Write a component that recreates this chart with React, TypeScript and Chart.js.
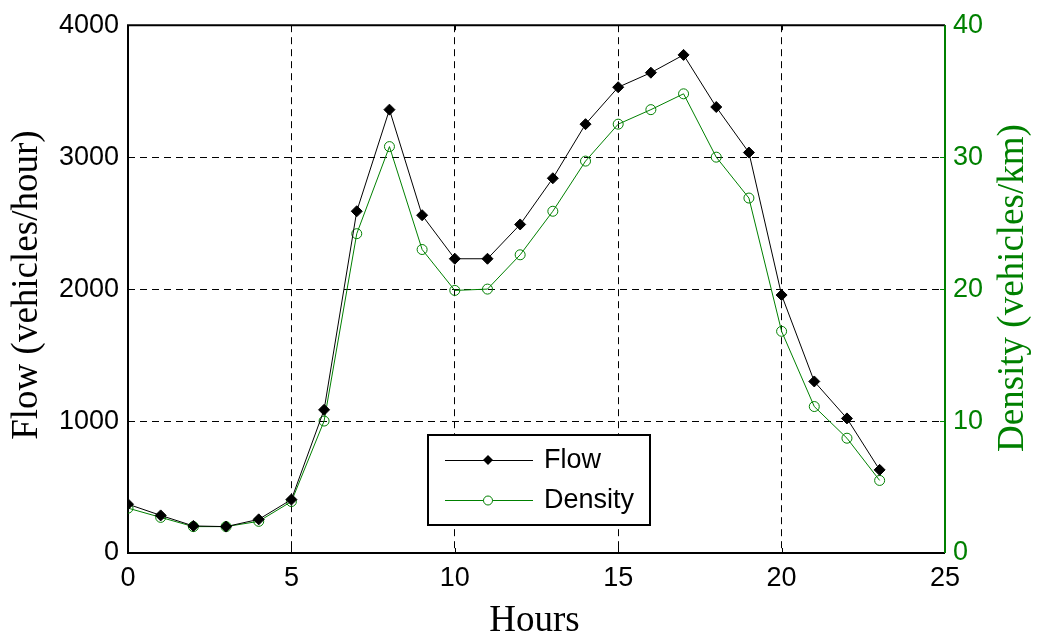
import React, { useEffect, useRef } from "react";
import { Chart, registerables } from "chart.js";

Chart.register(...registerables);

// Hourly traffic measurements
const HOURS = [0, 1, 2, 3, 4, 5, 6, 7, 8, 9, 10, 11, 12, 13, 14, 15, 16, 17, 18, 19, 20, 21, 22, 23];
const FLOW = [370, 285, 205, 200, 255, 405, 1085, 2590, 3360, 2560, 2230, 2230, 2490, 2840, 3250, 3530, 3640, 3775, 3380, 3035, 1955, 1300, 1020, 630];
const DENSITY = [3.4, 2.7, 2.0, 2.0, 2.4, 3.9, 10.0, 24.2, 30.8, 23.0, 19.9, 20.0, 22.6, 25.9, 29.7, 32.5, 33.6, 34.8, 30.0, 26.9, 16.8, 11.1, 8.7, 5.5];

const X_RANGE = [0, 25];
const FLOW_RANGE = [0, 4000];
const DENSITY_RANGE = [0, 40];

const GREEN = "rgb(0,128,0)";
const TICK_FONT = { family: "'Liberation Sans', Arial, sans-serif", size: 27 };
const TITLE_FONT = "37px 'Liberation Serif', 'Times New Roman', serif";
const LEGEND_FONT = "27px 'Liberation Sans', Arial, sans-serif";

const W = 1037;
const H = 639;

const plainTick = (v: any) => String(v);

const decorations = {
  id: "decorations",
  beforeDatasetsDraw(chart: any) {
    const { ctx, chartArea: a, scales } = chart;
    ctx.save();
    // inward tick marks
    ctx.lineWidth = 1;
    ctx.strokeStyle = "#000";
    ctx.beginPath();
    scales.x.ticks.forEach((t: any) => {
      const px = Math.round(scales.x.getPixelForValue(t.value)) + 0.5;
      ctx.moveTo(px, a.bottom);
      ctx.lineTo(px, a.bottom - 5);
      ctx.moveTo(px, a.top);
      ctx.lineTo(px, a.top + 5);
    });
    scales.y.ticks.forEach((t: any) => {
      const py = Math.round(scales.y.getPixelForValue(t.value)) + 0.5;
      ctx.moveTo(a.left, py);
      ctx.lineTo(a.left + 5, py);
    });
    ctx.stroke();
    ctx.strokeStyle = GREEN;
    ctx.beginPath();
    scales.y1.ticks.forEach((t: any) => {
      const py = Math.round(scales.y1.getPixelForValue(t.value)) + 0.5;
      ctx.moveTo(a.right, py);
      ctx.lineTo(a.right - 5, py);
    });
    ctx.stroke();

    // axes frame
    ctx.lineWidth = 2;
    ctx.strokeStyle = "#000";
    ctx.beginPath();
    ctx.moveTo(a.right, a.top);
    ctx.lineTo(a.left, a.top);
    ctx.lineTo(a.left, a.bottom);
    ctx.lineTo(a.right, a.bottom);
    ctx.stroke();
    ctx.strokeStyle = GREEN;
    ctx.beginPath();
    ctx.moveTo(a.right, a.top);
    ctx.lineTo(a.right, a.bottom);
    ctx.stroke();
    ctx.restore();
  },
  afterDraw(chart: any) {
    const { ctx, chartArea: a } = chart;
    const cy = (a.top + a.bottom) / 2;
    const cx = (a.left + a.right) / 2;
    ctx.save();
    ctx.font = TITLE_FONT;
    ctx.textAlign = "center";
    ctx.textBaseline = "middle";

    ctx.fillStyle = "#000";
    ctx.save();
    ctx.translate(27, cy - 4);
    ctx.rotate(-Math.PI / 2);
    ctx.fillText("Flow (vehicles/hour)", 0, 0);
    ctx.restore();

    ctx.fillStyle = GREEN;
    ctx.save();
    ctx.translate(1013, cy - 1);
    ctx.rotate(-Math.PI / 2);
    ctx.fillText("Density (vehicles/km)", 0, 0);
    ctx.restore();

    ctx.fillStyle = "#000";
    ctx.fillText("Hours", cx - 2, 621);

    // legend box
    const lx = 428, ly = 435, lw = 222, lh = 90;
    ctx.fillStyle = "#fff";
    ctx.fillRect(lx, ly, lw, lh);
    ctx.lineWidth = 2;
    ctx.strokeStyle = "#000";
    ctx.strokeRect(lx, ly, lw, lh);

    const rows = [
      { label: "Flow", color: "#000", y: 460, marker: "diamond" },
      { label: "Density", color: GREEN, y: 500, marker: "circle" },
    ];
    rows.forEach((r) => {
      ctx.lineWidth = 1;
      ctx.strokeStyle = r.color;
      ctx.beginPath();
      ctx.moveTo(445, r.y + 0.5);
      ctx.lineTo(533, r.y + 0.5);
      ctx.stroke();
      const mx = 488;
      if (r.marker === "diamond") {
        ctx.fillStyle = r.color;
        ctx.beginPath();
        ctx.moveTo(mx, r.y - 5);
        ctx.lineTo(mx + 5, r.y);
        ctx.lineTo(mx, r.y + 5);
        ctx.lineTo(mx - 5, r.y);
        ctx.closePath();
        ctx.fill();
      } else {
        ctx.fillStyle = "#fff";
        ctx.beginPath();
        ctx.arc(mx, r.y + 0.5, 4.5, 0, Math.PI * 2);
        ctx.fill();
        ctx.stroke();
      }
      ctx.fillStyle = "#000";
      ctx.font = LEGEND_FONT;
      ctx.textAlign = "left";
      ctx.textBaseline = "middle";
      ctx.fillText(r.label, 544, r.y + 1);
    });
    ctx.restore();
  },
};

export default function App() {
  const canvasRef = useRef<HTMLCanvasElement | null>(null);

  useEffect(() => {
    if (!canvasRef.current) return;
    const gridColor = (edge: number[]) => (c: any) =>
      c.tick && (c.tick.value === edge[0] || c.tick.value === edge[1]) ? "rgba(0,0,0,0)" : "#000";

    const chart = new Chart(canvasRef.current, {
      type: "line",
      data: {
        datasets: [
          {
            label: "Flow",
            data: HOURS.map((h, i) => ({ x: h, y: FLOW[i] })),
            borderColor: "#000",
            backgroundColor: "#000",
            borderWidth: 1,
            pointStyle: "rectRot",
            pointRadius: 5.5,
            pointBorderWidth: 1,
            yAxisID: "y",
            tension: 0,
          },
          {
            label: "Density",
            data: HOURS.map((h, i) => ({ x: h, y: DENSITY[i] })),
            borderColor: GREEN,
            backgroundColor: "rgba(0,0,0,0)",
            borderWidth: 1,
            pointStyle: "circle",
            pointRadius: 5,
            pointBorderWidth: 1,
            yAxisID: "y1",
            tension: 0,
          },
        ],
      },
      options: {
        responsive: false,
        animation: false,
        events: [],
        layout: { padding: { top: 22, left: 0, right: 0, bottom: 0 } },
        plugins: { legend: { display: false }, tooltip: { enabled: false } },
        scales: {
          x: {
            type: "linear",
            position: "bottom",
            min: X_RANGE[0],
            max: X_RANGE[1],
            ticks: { stepSize: 5, color: "#000", font: TICK_FONT, padding: 9, maxRotation: 0, callback: plainTick },
            grid: { color: gridColor(X_RANGE), lineWidth: 1, drawTicks: false },
            border: { display: false, dash: [7, 5] },
            afterFit: (s: any) => {
              s.height = 86;
            },
          },
          y: {
            type: "linear",
            position: "left",
            min: FLOW_RANGE[0],
            max: FLOW_RANGE[1],
            ticks: { stepSize: 1000, color: "#000", font: TICK_FONT, padding: 9, callback: plainTick },
            grid: { color: gridColor(FLOW_RANGE), lineWidth: 1, drawTicks: false },
            border: { display: false, dash: [7, 5] },
            afterFit: (s: any) => {
              s.width = 128;
            },
          },
          y1: {
            type: "linear",
            position: "right",
            min: DENSITY_RANGE[0],
            max: DENSITY_RANGE[1],
            ticks: { stepSize: 10, color: GREEN, font: TICK_FONT, padding: 8, callback: plainTick },
            grid: { display: false, drawTicks: false },
            border: { display: false },
            afterFit: (s: any) => {
              s.width = 92;
            },
          },
        },
      },
      plugins: [decorations],
    } as any);

    return () => chart.destroy();
  }, []);

  return (
    <div style={{ position: "absolute", left: 0, top: 0, width: W, height: H, background: "#fff" }}>
      <canvas ref={canvasRef} width={W} height={H} style={{ width: W, height: H, display: "block" }} />
    </div>
  );
}
